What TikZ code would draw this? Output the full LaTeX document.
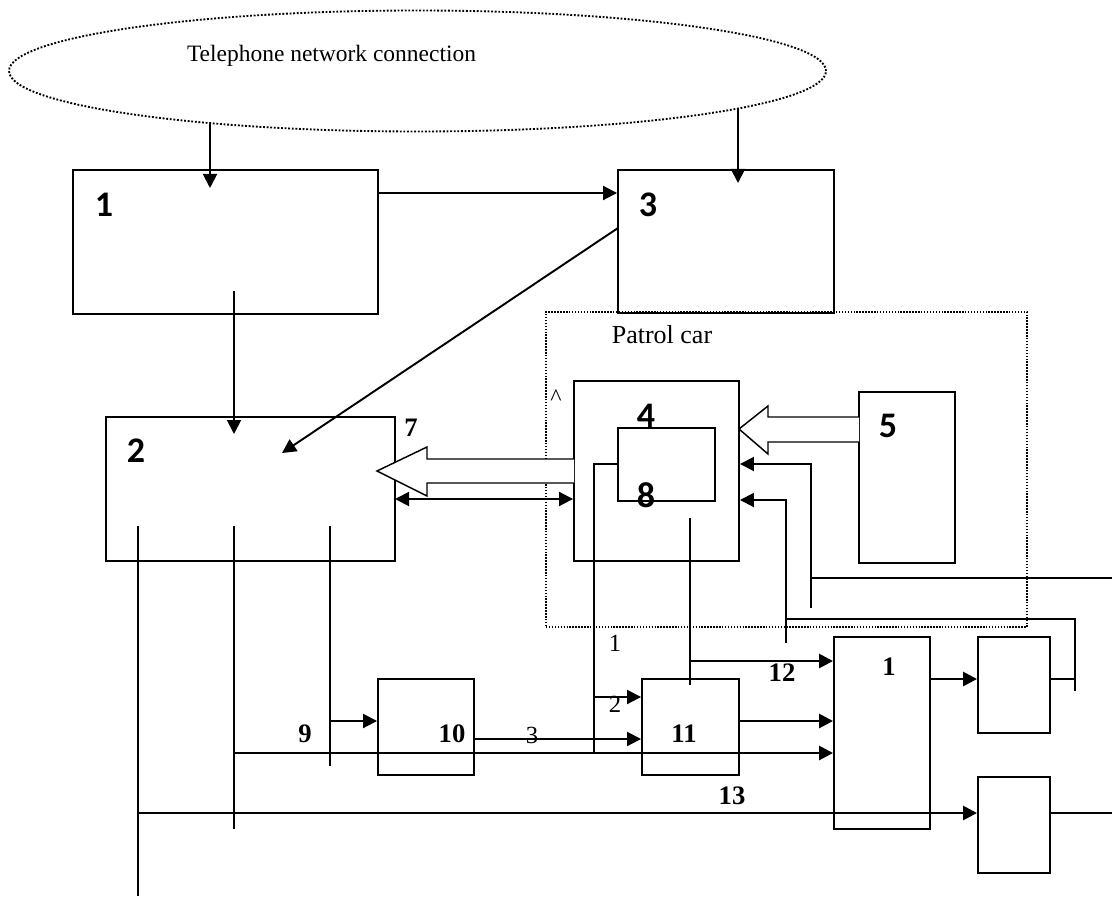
\documentclass[tikz,border=0pt]{standalone}
\usepackage{fontspec}
\setmainfont{Liberation Serif}
\newfontfamily\calfont{Carlito}
\usetikzlibrary{arrows.meta,fit,shapes.geometric}
\begin{document}
\begin{tikzpicture}[x=0.75pt,y=-0.75pt,
  ln/.style={line width=1.45pt},
  thk/.style={line width=2pt},
  arr/.style={-{Triangle[length=10.5pt,width=10.5pt]}},
  darr/.style={{Triangle[length=10.5pt,width=10.5pt]}-{Triangle[length=10.5pt,width=10.5pt]}},
  box/.style={draw,line width=1.45pt,inner sep=0pt,fit={#1}},
  dotbox/.style={draw,line width=1.1pt,dash pattern=on 1.1pt off 1.1pt,inner sep=0pt,fit={#1}},
  hollow/.style={draw,fill=white,line width=1.1pt,line join=miter},
  cal/.style={font=\calfont\bfseries\fontsize{27}{30}\selectfont,inner sep=0pt},
  tb/.style={font=\bfseries\fontsize{20}{24}\selectfont,inner sep=0pt},
  tr/.style={font=\fontsize{18.5}{22}\selectfont,inner sep=0pt}]
\useasboundingbox (0,0) rectangle (1112,898);

% network ellipse
\node[draw,ellipse,line width=1.4pt,dash pattern=on 1.4pt off 1.3pt,inner sep=0pt,
  minimum width=612.75pt,minimum height=90.75pt] (net) at (417.5,71) {};
\node[anchor=base,inner sep=0pt,font=\fontsize{17.6}{20}\selectfont] (tnet) at (331.5,62) {Telephone network connection};

% patrol car frame
\node[dotbox={(546,312) (1027,627)}] (car) {};
\node[anchor=base,inner sep=0pt,font=\fontsize{19.5}{22}\selectfont] (tcar) at (662,343) {Patrol car};
\node[anchor=base,inner sep=0pt,font=\fontsize{18}{20}\selectfont] (caret) at (556,405) {\^{}};

% boxes
\node[box={(73,170) (378,314)}] (b1) {};
\node[box={(618,170) (834,313)}] (b3) {};
\node[box={(106,417) (395,561)}] (b2) {};
\node[box={(574,381) (739,561)}] (b4) {};
\node[box={(618,428) (715,501)}] (b8) {};
\node[box={(859,392) (955,563)}] (b5) {};
\node[box={(378,679) (474,775)}] (b10) {};
\node[box={(642,679) (739,775)}] (b11) {};
\node[box={(834,637) (930,829)}] (bR) {};
\node[box={(978,637) (1050,733)}] (bS1) {};
\node[box={(978,777) (1050,873)}] (bS2) {};

% coordinates
\coordinate (n1) at (210,123); \coordinate (n1e) at (210,188);
\coordinate (n3) at (738,108); \coordinate (n3e) at (738,183);
\coordinate (h13) at (378,193);
\coordinate (c12a) at (234,291); \coordinate (c12b) at (234,434);
\coordinate (d3) at (618,228); \coordinate (d2) at (282,453);
\coordinate (dbl) at (395,499);
\coordinate (v1a) at (138,526); \coordinate (v1b) at (138,896);
\coordinate (v2a) at (234,526); \coordinate (v2b) at (234,829);
\coordinate (v3a) at (330,526); \coordinate (v3b) at (330,766);
\coordinate (j9) at (330,721);
\coordinate (j13) at (234,753);
\coordinate (j10) at (474,739);
\coordinate (j11) at (739,721);
\coordinate (j14) at (138,813);
\coordinate (r2) at (1112,813);
\coordinate (j15) at (930,679);
\coordinate (p8a) at (618,464); \coordinate (p8b) at (594,464); \coordinate (p8c) at (594,753);
\coordinate (p8d) at (594,697);
\coordinate (p4a) at (690,518); \coordinate (p4b) at (690,685); \coordinate (p4c) at (690,661);
\coordinate (ra) at (811,608); \coordinate (rb) at (811,464); \coordinate (rc) at (811,578); \coordinate (rd) at (1112,578);
\coordinate (sa) at (786,643); \coordinate (sb) at (786,500); \coordinate (sc) at (786,619);
\coordinate (sd) at (1075,619); \coordinate (se) at (1075,691); \coordinate (sf) at (1075,679);

% connectors
\draw[ln,arr] (n1) -- (n1e);
\draw[ln,arr] (n3) -- (n3e);
\draw[ln,arr] (h13) -- (b3.west |- h13);
\draw[ln,arr] (c12a) -- (c12b);
\draw[ln,arr] (d3) -- (d2);
\draw[ln,darr] (dbl) -- (b4.west |- dbl);

\draw[ln] (v1a) -- (v1b);
\draw[ln] (v2a) -- (v2b);
\draw[ln] (v3a) -- (v3b);
\draw[ln,arr] (j9) -- (b10.west |- j9);
\draw[thk,arr] (j13) -- (bR.west |- j13);
\draw[ln,arr] (j10) -- (b11.west |- j10);
\draw[thk,arr] (j11) -- (bR.west |- j11);
\draw[thk,arr] (j14) -- (bS2.west |- j14);
\draw[ln] (bS2.east |- j14) -- (r2);
\draw[thk,arr] (j15) -- (bS1.west |- j15);

\draw[ln] (p8a) -- (p8b) -- (p8c);
\draw[ln,arr] (p8d) -- (b11.west |- p8d);
\draw[ln] (p4a) -- (p4b);
\draw[thk,arr] (p4c) -- (bR.west |- p4c);

\draw[ln,arr] (ra) -- (rb) -- (b4.east |- rb);
\draw[ln] (rc) -- (rd);
\draw[ln,arr] (sa) -- (sb) -- (b4.east |- sb);
\draw[ln] (sc) -- (sd) -- (se);
\draw[ln] (bS1.east |- sf) -- (sf);

% hollow arrows
\draw[hollow] (574,459) -- (427,459) -- (427,447) -- (377,471) -- (427,496) -- (427,483) -- (574,483);
\draw[hollow] (859,417) -- (768,417) -- (768,406) -- (739,429) -- (768,454) -- (768,442) -- (859,442);

% labels
\node[cal] (l1) at (104,205) {1};
\node[cal] (l3) at (648,205) {3};
\node[cal] (l2) at (136,451) {2};
\node[cal] (l4) at (646,416) {4};
\node[cal] (l8) at (646,495) {8};
\node[cal] (l5) at (888,426) {5};
\node[tb] (l7) at (411,428) {7};
\node[tb] (l9) at (305,734) {9};
\node[tb] (l10) at (452,734) {10};
\node[tb] (l11) at (684,734) {11};
\node[tb] (l12) at (782,673) {12};
\node[tb] (l13) at (732,796) {13};
\node[tb] (lR) at (889,667) {1};
\node[tr] (s1) at (615,643) {1};
\node[tr] (s2) at (615,704) {2};
\node[tr] (s3) at (532,735) {3};
\end{tikzpicture}
\end{document}
